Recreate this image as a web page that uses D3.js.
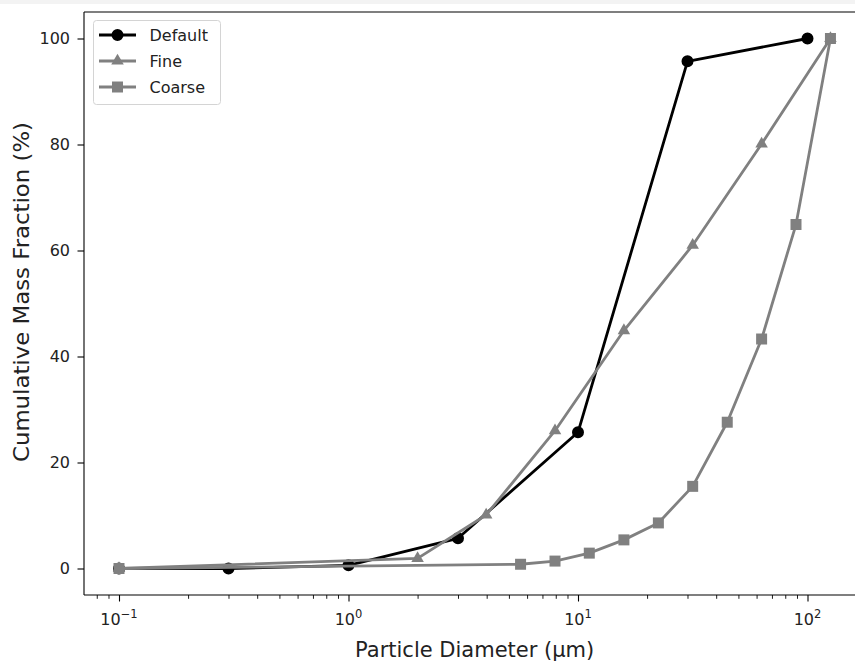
<!DOCTYPE html>
<html>
<head>
<meta charset="utf-8">
<script src="https://cdn.jsdelivr.net/npm/d3@7"></script>
<style>
  html, body { margin: 0; padding: 0; background: #fff; }
  svg { display: block; font-family: "DejaVu Sans", sans-serif; }
</style>
</head>
<body>
<svg id="chart" width="855" height="661"></svg>
<script>
// Cumulative particle size distributions
const defaultDiam = [0.1, 0.3, 1, 3, 10, 30, 100];
const defaultMass = [0, 0, 0.6, 5.7, 25.7, 95.7, 100];

const fineDiam = [0.1, 2.0, 3.98, 7.94, 15.85, 31.6, 63.1, 125.9];
const fineMass = [0, 1.9, 10.1, 26.0, 44.9, 61.0, 80.1, 100];

const coarseDiam = [0.1, 5.62, 7.94, 11.2, 15.85, 22.4, 31.6, 44.7, 63.1, 89.1, 125.9];
const coarseMass = [0, 0.8, 1.4, 2.9, 5.4, 8.6, 15.5, 27.6, 43.3, 64.9, 100];

const xMajorTicks = [0.1, 1, 10, 100];
const xTickExp = ["\u22121", "0", "1", "2"];
const yTicks = [0, 20, 40, 60, 80, 100];

const seriesList = [
  { name: "Default", x: defaultDiam, y: defaultMass, color: "#000000", marker: "circle" },
  { name: "Fine", x: fineDiam, y: fineMass, color: "#808080", marker: "triangle" },
  { name: "Coarse", x: coarseDiam, y: coarseMass, color: "#808080", marker: "square" }
];

const svg = d3.select("#chart");
const textColor = "#222";

// faint strip along the top edge of the canvas
svg.append("rect").attr("x", 0).attr("y", 0).attr("width", 855).attr("height", 4).attr("fill", "#f3f3f3");

const x = d3.scaleLog().domain([0.1, 100]).range([119, 807.5]);
const plotLeft = 84, plotTop = 12, plotBottom = 595;
const plotRight = x(Math.pow(10, 2.252));
const y = d3.scaleLinear().domain([-5, 105]).range([plotBottom, plotTop]);

svg.append("defs").append("clipPath").attr("id", "plotClip")
  .append("rect").attr("x", plotLeft).attr("y", plotTop)
  .attr("width", plotRight - plotLeft).attr("height", plotBottom - plotTop);

// y axis
const yAxis = d3.axisLeft(y).tickValues(yTicks).tickSize(6.5).tickPadding(7.5);
const gy = svg.append("g").attr("transform", `translate(${plotLeft},0)`).call(yAxis);
gy.select(".domain").remove();
gy.selectAll("line").attr("stroke", "#000").attr("stroke-width", 1.1);
gy.selectAll("text").attr("font-size", 16).attr("fill", textColor).attr("font-family", "DejaVu Sans");

// x axis: minor ticks
const xMin = x.invert(plotLeft);
const minor = [];
for (let e = -2; e <= 2; e++) {
  for (let m = 2; m <= 9; m++) {
    const v = m * Math.pow(10, e);
    if (v > xMin && x(v) < 855) minor.push(v);
  }
}
const gx = svg.append("g").attr("transform", `translate(0,${plotBottom})`);
gx.call(d3.axisBottom(x).tickValues(minor).tickSize(3.8).tickFormat(""));
gx.select(".domain").remove();
gx.selectAll("line").attr("stroke", "#000").attr("stroke-width", 0.9);

const gxMaj = svg.append("g").attr("transform", `translate(0,${plotBottom})`);
gxMaj.call(d3.axisBottom(x).tickValues(xMajorTicks).tickSize(6.5).tickFormat(""));
gxMaj.select(".domain").remove();
gxMaj.selectAll("line").attr("stroke", "#000").attr("stroke-width", 1.1);
xMajorTicks.forEach((v, i) => {
  const t = svg.append("text")
    .attr("x", x(v)).attr("y", plotBottom + 30)
    .attr("text-anchor", "middle").attr("font-size", 16).attr("fill", textColor);
  t.append("tspan").text("10");
  t.append("tspan").attr("dy", -7).attr("font-size", 11.5).text(xTickExp[i]);
});

// spines
const spine = (x1, y1, x2, y2) => svg.append("line")
  .attr("x1", x1).attr("y1", y1).attr("x2", x2).attr("y2", y2)
  .attr("stroke", "#000").attr("stroke-width", 1.1);
spine(plotLeft, plotTop, plotLeft, plotBottom);
spine(plotLeft, plotBottom, plotRight, plotBottom);
spine(plotLeft, plotTop, plotRight, plotTop);
spine(plotRight, plotTop, plotRight, plotBottom);

// axis labels
svg.append("text").attr("x", (plotLeft + plotRight) / 2).attr("y", 657)
  .attr("text-anchor", "middle").attr("font-size", 21).attr("fill", textColor)
  .text("Particle Diameter (\u00b5m)");
svg.append("text").attr("transform", "translate(28.5,292) rotate(-90)")
  .attr("text-anchor", "middle").attr("font-size", 21).attr("fill", textColor)
  .attr("textLength", 340).attr("lengthAdjust", "spacingAndGlyphs")
  .text("Cumulative Mass Fraction (%)");

// markers
const symbolFor = {
  circle: d3.symbol().type(d3.symbolCircle).size(113),
  triangle: d3.symbol().type(d3.symbolTriangle).size(68),
  square: d3.symbol().type(d3.symbolSquare).size(121)
};

const plot = svg.append("g").attr("clip-path", "url(#plotClip)");
const line = d3.line().x(d => x(d[0])).y(d => y(d[1]));

seriesList.forEach(s => {
  const pts = s.x.map((v, i) => [v, s.y[i]]);
  const g = plot.append("g");
  g.append("path").datum(pts).attr("d", line)
    .attr("fill", "none").attr("stroke", s.color).attr("stroke-width", 2.8)
    .attr("stroke-linejoin", "round");
  g.selectAll("path.m").data(pts).join("path").attr("class", "m")
    .attr("d", symbolFor[s.marker])
    .attr("transform", d => `translate(${x(d[0])},${y(d[1])})`)
    .attr("fill", s.color);
});

// legend
const lg = svg.append("g");
lg.append("rect").attr("x", 93.5).attr("y", 20.5).attr("width", 127).attr("height", 84)
  .attr("rx", 3).attr("fill", "#fff").attr("fill-opacity", 0.8)
  .attr("stroke", "#d4d4d4").attr("stroke-width", 1);
seriesList.forEach((s, i) => {
  const cy = 35 + i * 26;
  lg.append("line").attr("x1", 99).attr("x2", 136).attr("y1", cy).attr("y2", cy)
    .attr("stroke", s.color).attr("stroke-width", 2.8);
  lg.append("path").attr("d", symbolFor[s.marker]).attr("transform", `translate(117.5,${cy})`).attr("fill", s.color);
  lg.append("text").attr("x", 149.5).attr("y", cy + 5.8).attr("font-size", 16).attr("fill", textColor).text(s.name);
});
</script>
</body>
</html>
